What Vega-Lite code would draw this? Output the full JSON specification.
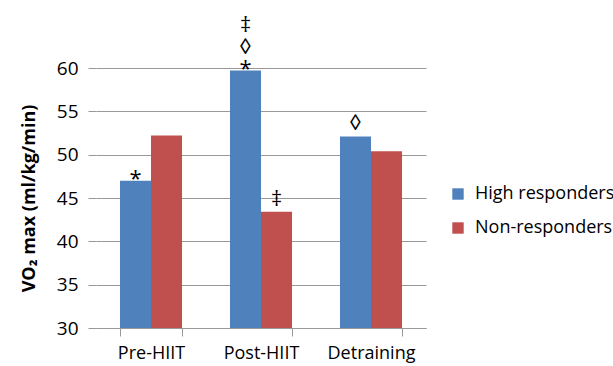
{
  "$schema": "https://vega.github.io/schema/vega-lite/v6.json",
  "autosize": "none",
  "width": 330,
  "height": 260,
  "padding": {"left": 96, "top": 68, "right": 187, "bottom": 38},
  "background": "white",
  "config": {
    "font": "Open Sans",
    "view": {"stroke": null}
  },
  "data": {
    "values": [
      {"phase": "Pre-HIIT", "group": "High responders", "value": 47.0, "sig": "*"},
      {"phase": "Pre-HIIT", "group": "Non-responders", "value": 52.2, "sig": ""},
      {"phase": "Post-HIIT", "group": "High responders", "value": 59.7, "sig": "‡|◊|*"},
      {"phase": "Post-HIIT", "group": "Non-responders", "value": 43.4, "sig": "‡"},
      {"phase": "Detraining", "group": "High responders", "value": 52.1, "sig": "◊"},
      {"phase": "Detraining", "group": "Non-responders", "value": 50.4, "sig": ""}
    ]
  },
  "encoding": {
    "x": {
      "field": "phase",
      "type": "nominal",
      "sort": ["Pre-HIIT", "Post-HIIT", "Detraining"],
      "scale": {"paddingInner": 0.436, "paddingOuter": 0.218},
      "axis": {
        "title": null,
        "labelAngle": 0,
        "labelFontSize": 18,
        "labelColor": "#000",
        "labelPadding": 8,
        "tickBand": "extent",
        "tickSize": 8,
        "tickColor": "#999",
        "domainColor": "#999",
        "grid": false
      }
    },
    "xOffset": {"field": "group", "type": "nominal", "sort": ["High responders", "Non-responders"]},
    "y": {
      "field": "value",
      "type": "quantitative",
      "scale": {"domain": [30, 60], "zero": false, "nice": false},
      "axis": {
        "title": "VO₂ max (ml/kg/min)",
        "titleFontSize": 18,
        "titleFontWeight": "bold",
        "titleColor": "#000",
        "titlePadding": 18,
        "values": [30, 35, 40, 45, 50, 55, 60],
        "labelFontSize": 19,
        "labelColor": "#000",
        "labelPadding": 10,
        "tickSize": 8,
        "tickColor": "#999",
        "gridColor": "#999",
        "domain": false
      }
    }
  },
  "layer": [
    {
      "mark": {"type": "bar"},
      "encoding": {
        "y2": {"datum": 30},
        "color": {
          "field": "group",
          "type": "nominal",
          "scale": {"domain": ["High responders", "Non-responders"], "range": ["#4F81BD", "#C0504D"]},
          "legend": {
            "title": null,
            "orient": "none",
            "legendX": 353,
            "legendY": 117,
            "symbolType": "square",
            "symbolSize": 130,
            "symbolStrokeWidth": 0,
            "labelFontSize": 18,
            "labelColor": "#000",
            "labelOffset": 8,
            "rowPadding": 16
          }
        }
      }
    },
    {
      "transform": [{"filter": "datum.sig == '*'"}],
      "mark": {"type": "text", "fontSize": 22, "baseline": "bottom", "dy": 10, "color": "#000"},
      "encoding": {"text": {"field": "sig"}}
    },
    {
      "transform": [{"filter": "indexof(datum.sig, '|') >= 0"}],
      "mark": {"type": "text", "fontSize": 22, "baseline": "bottom", "lineBreak": "|", "lineHeight": 22, "dy": -34, "color": "#000"},
      "encoding": {"text": {"field": "sig"}}
    },
    {
      "transform": [{"filter": "datum.sig != '' && indexof(datum.sig, '*') < 0"}],
      "mark": {"type": "text", "fontSize": 22, "baseline": "bottom", "dy": -1, "color": "#000"},
      "encoding": {"text": {"field": "sig"}}
    }
  ]
}
